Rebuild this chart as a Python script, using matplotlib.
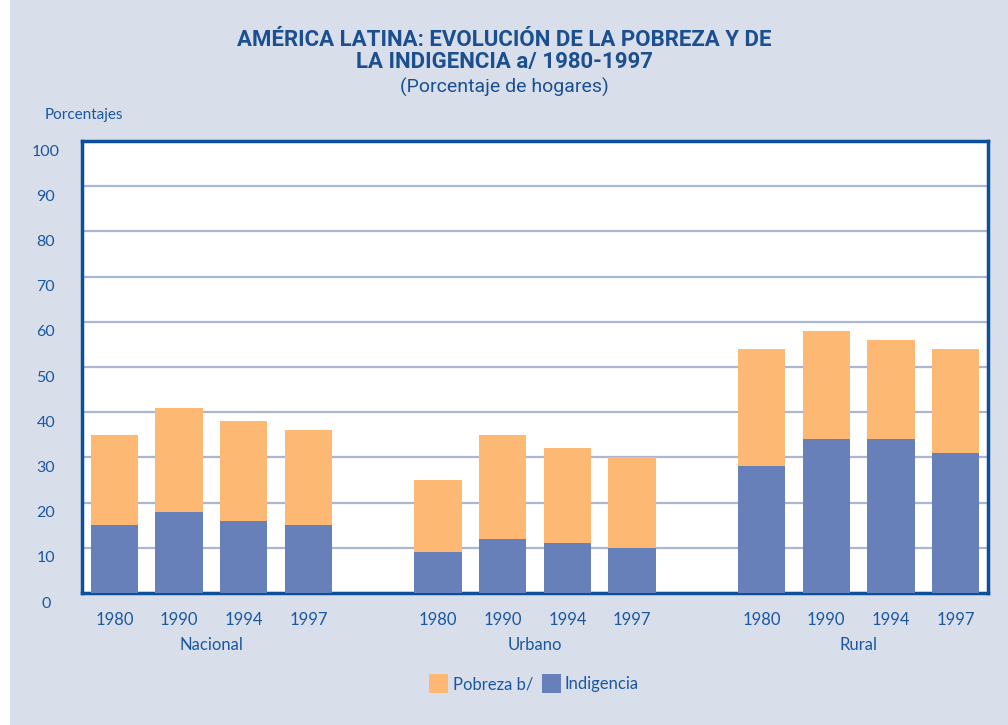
import matplotlib.pyplot as plt
import matplotlib.transforms as mtrans
from matplotlib.patches import Rectangle

# data (percent of households)
zonas = ['Nacional', 'Urbano', 'Rural']
anios = ['1980', '1990', '1994', '1997']
pobreza_total = [35, 41, 38, 36,  25, 35, 32, 30,  54, 58, 56, 54]
indigencia = [15, 18, 16, 15,  9, 12, 11, 10,  28, 34, 34, 31]

bg = '#d8dfeb'
azul_txt = '#1a57a0'
c_pob = '#fdb974'
c_ind = '#6880ba'

plt.rcParams['font.family'] = ['Lato', 'DejaVu Sans']

fig = plt.figure(figsize=(10.08, 7.25), dpi=100, facecolor=bg)
fig.patches.append(Rectangle((0, 0), 10 / 1008, 1, transform=fig.transFigure,
                             facecolor='white', edgecolor='none', zorder=-1))
ax = fig.add_axes([82 / 1008, 1 - 593 / 725, 906 / 1008, 452 / 725])

pos = []
for g in range(len(zonas)):
    for i in range(len(anios)):
        pos.append(g * 5 + i)

pob_sup = [t - i for t, i in zip(pobreza_total, indigencia)]
ax.bar(pos, indigencia, width=0.73, color=c_ind, zorder=3)
ax.bar(pos, pob_sup, bottom=indigencia, width=0.73, color=c_pob, zorder=3)

ax.set_xlim(-0.5, 13.5)
ax.set_ylim(0, 100)
ax.set_yticks(range(0, 101, 10))
ax.yaxis.grid(True, color='#a9b6d4', linewidth=1.6, zorder=0)
ax.set_axisbelow(True)
for s in ax.spines.values():
    s.set_color('#0c4f9a')
    s.set_linewidth(2.5)
ax.tick_params(axis='y', length=0, pad=26, labelsize=11.5, labelcolor=azul_txt)
ax.tick_params(axis='x', length=0, pad=14, labelsize=12, labelcolor=azul_txt)
shift = mtrans.ScaledTranslation(0, -9 / 100, fig.dpi_scale_trans)
for lab in ax.get_yticklabels():
    lab.set_horizontalalignment('center')
    lab.set_transform(lab.get_transform() + shift)
ax.set_xticks(pos)
ax.set_xticklabels(anios * len(zonas))

for g, z in enumerate(zonas):
    ax.text(g * 5 + 1.5, -11.5, z, ha='center', va='center', fontsize=12,
            color=azul_txt, transform=ax.transData)

fig.text(0.5, 1 - 40 / 725, 'AMÉRICA LATINA: EVOLUCIÓN DE LA POBREZA Y DE',
         ha='center', va='center', fontsize=16, fontweight='bold', color='#1b4f8f',
         family=['Roboto', 'DejaVu Sans'])
fig.text(0.5, 1 - 62 / 725, 'LA INDIGENCIA a/ 1980-1997',
         ha='center', va='center', fontsize=16, fontweight='bold', color='#1b4f8f',
         family=['Roboto', 'DejaVu Sans'])
fig.text(0.5, 1 - 87 / 725, '(Porcentaje de hogares)',
         ha='center', va='center', fontsize=14, color='#1b4f8f',
         family=['Roboto', 'DejaVu Sans'])
fig.text(45 / 1008, 1 - 115 / 725, 'Porcentajes', ha='left', va='center',
         fontsize=11, color=azul_txt)

# legend
fig.patches.append(Rectangle((429 / 1008, 1 - 693 / 725), 19 / 1008, 19 / 725,
                             transform=fig.transFigure, facecolor=c_pob, edgecolor='none'))
fig.text(453 / 1008, 1 - 684 / 725, 'Pobreza b/', ha='left', va='center',
         fontsize=12, color=azul_txt)
fig.patches.append(Rectangle((542 / 1008, 1 - 693 / 725), 19 / 1008, 19 / 725,
                             transform=fig.transFigure, facecolor=c_ind, edgecolor='none'))
fig.text(565 / 1008, 1 - 684 / 725, 'Indigencia', ha='left', va='center',
         fontsize=12, color=azul_txt)

fig.savefig('out.png', dpi=100, facecolor=bg)
